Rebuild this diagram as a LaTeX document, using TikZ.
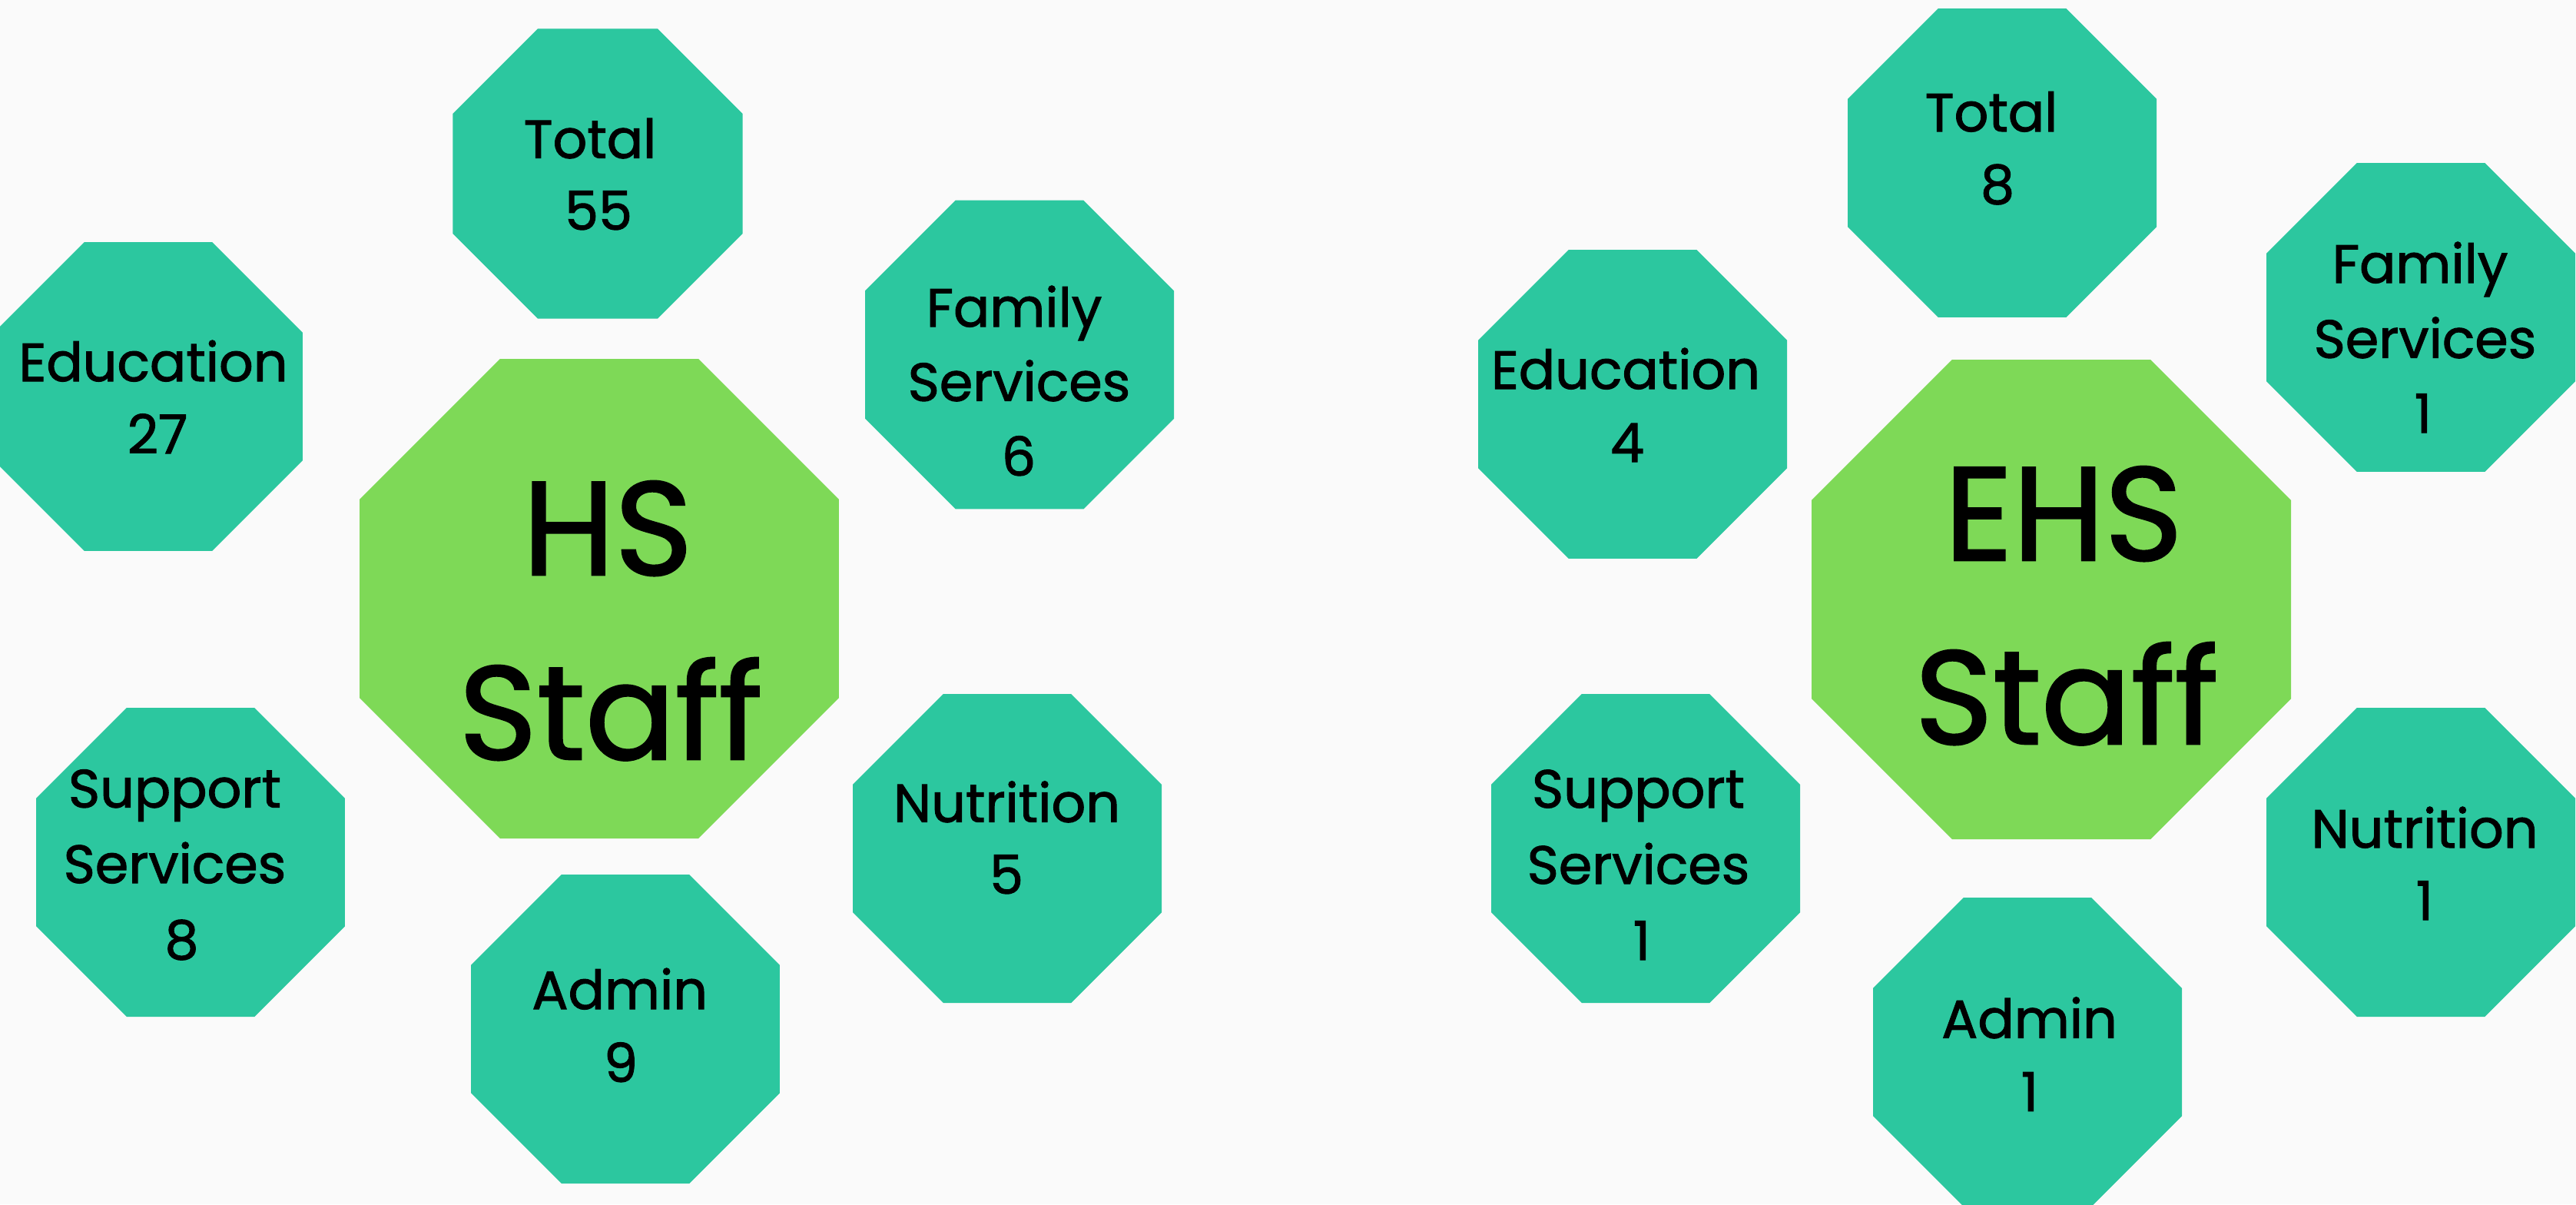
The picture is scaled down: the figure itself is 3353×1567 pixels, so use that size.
\documentclass[tikz,border=0pt]{standalone}
\usepackage{fontspec}
\setmainfont{Poppins}[FakeBold=1.5]
\usetikzlibrary{shapes.geometric}
\definecolor{tealoct}{HTML}{2CC79F}
\definecolor{limeoct}{HTML}{7ED957}
\definecolor{bgcol}{HTML}{FAFAFA}
\begin{document}
\begin{tikzpicture}[x=1pt,y=-1pt,
  oct/.style={regular polygon, regular polygon sides=8, inner sep=0pt, outer sep=0pt, fill=tealoct, draw=none, minimum size=435.1pt},
  bigoct/.style={oct, fill=limeoct, minimum size=675.4pt},
  smalloct/.style={oct, minimum size=408.1pt},
  lab/.style={anchor=base, inner sep=0pt, outer sep=0pt, font=\fontsize{70}{80}\selectfont, text=black},
  biglab/.style={lab, font=\fontsize{173}{200}\selectfont}]
\useasboundingbox (0,0) rectangle (3353,1567);
\fill[bgcol] (0,0) rectangle (3353,1567);
\clip (0,0) rectangle (3353,1567);
% HS side
\node[smalloct] (tot55) at (778,226) {};
\node[oct] (edu27) at (193,516) {};
\node[oct] (fam6) at (1327,461.5) {};
\node[bigoct] (hs) at (780,779) {};
\node[oct] (sup8) at (248,1122) {};
\node[oct] (nut5) at (1311,1104) {};
\node[oct] (adm9) at (814,1339) {};
% EHS side
\node[oct] (tot8) at (2606,212) {};
\node[oct] (fam1) at (3151,413) {};
\node[oct] (edu4) at (2125,526) {};
\node[bigoct] (ehs) at (2670,780) {};
\node[oct] (sup1) at (2142,1104) {};
\node[oct] (nut1) at (3151,1122) {};
\node[oct] (adm1) at (2639,1369) {};
% labels HS side
\node[lab] (tot55a) at (768,205.7) {Total};
\node[lab] (tot55b) at (779,299) {55};
\node[lab] (edu27a) at (199.5,496) {Education};
\node[lab] (edu27b) at (205,590) {27};
\node[lab] (fam6a) at (1320,425) {Family};
\node[lab] (fam6b) at (1326.5,521.7) {Services};
\node[lab] (fam6c) at (1326,619) {6};
\node[biglab] (hsa) at (791,748) {HS};
\node[biglab] (hsb) at (795,988) {Staff};
\node[lab] (sup8a) at (227.5,1050.7) {Support};
\node[lab] (sup8b) at (227.5,1149) {Services};
\node[lab] (sup8c) at (236.5,1248) {8};
\node[lab] (nut5a) at (1310.5,1069.7) {Nutrition};
\node[lab] (nut5b) at (1310,1163) {5};
\node[lab] (adm9a) at (806.7,1313) {Admin};
\node[lab] (adm9b) at (808,1408) {9};
% labels EHS side
\node[lab] (tot8a) at (2592,171) {Total};
\node[lab] (tot8b) at (2600,265) {8};
\node[lab] (fam1a) at (3150,368) {Family};
\node[lab] (fam1b) at (3156.5,465.7) {Services};
\node[lab] (fam1c) at (3154,563) {1};
\node[biglab] (ehsa) at (2686,729) {EHS};
\node[biglab] (ehsb) at (2690,968) {Staff};
\node[lab] (edu4a) at (2116,506) {Education};
\node[lab] (edu4b) at (2118,601) {4};
\node[lab] (sup1a) at (2132.5,1051) {Support};
\node[lab] (sup1b) at (2132.5,1150) {Services};
\node[lab] (sup1c) at (2137,1249) {1};
\node[lab] (nut1a) at (3156,1103) {Nutrition};
\node[lab] (nut1b) at (3156,1197) {1};
\node[lab] (adm1a) at (2641.5,1350.7) {Admin};
\node[lab] (adm1b) at (2642,1445.7) {1};
\end{tikzpicture}
\end{document}
